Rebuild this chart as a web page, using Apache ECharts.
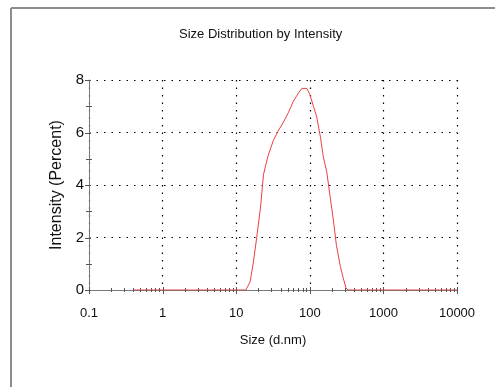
<!DOCTYPE html>
<html>
<head>
<meta charset="utf-8">
<script src="https://cdn.jsdelivr.net/npm/echarts@6/dist/echarts.min.js"></script>
<style>
html,body{margin:0;padding:0;background:#fff;}
#chart{width:495px;height:387px;}
</style>
</head>
<body>
<div id="chart"></div>
<script>
// ---- data ----
var titleText = 'Size Distribution by Intensity';
var xName = 'Size (d.nm)';
var yName = 'Intensity (Percent)';
var sizes = [0.4, 13.5, 15.4, 17, 19, 21.5, 23.5, 27, 32, 37, 44, 51, 60, 70, 78, 91, 100, 112, 124, 140, 152, 170, 190, 209, 230, 260, 285, 310, 330, 10000];
var intensity = [0, 0, 0.3, 1.0, 2.0, 3.2, 4.4, 5.1, 5.7, 6.05, 6.4, 6.75, 7.2, 7.5, 7.68, 7.68, 7.45, 7.0, 6.6, 5.8, 5.1, 4.5, 3.5, 2.67, 1.7, 0.9, 0.45, 0.08, 0, 0];
var xTickLabels = ['0.1', '1', '10', '100', '1000', '10000'];
var xMajorTicks = [0.1, 1, 10, 100, 1000, 10000];
var xMinorTicks = [0.2,0.3,0.4,0.5,0.6,0.7,0.8,0.9, 2,3,4,5,6,7,8,9, 20,30,40,50,60,70,80,90, 200,300,400,500,600,700,800,900, 2000,3000,4000,5000,6000,7000,8000,9000];
var yMajorTicks = [0, 2, 4, 6, 8];
var yMinorTicks = [1, 3, 5, 7];

var lineData = sizes.map(function (s, i) { return [s, intensity[i]]; });
var xTickData = xMajorTicks.map(function (v) { return [v, 1]; }).concat(xMinorTicks.map(function (v) { return [v, 0]; }));
var yTickData = yMajorTicks.map(function (v) { return [v, 1]; }).concat(yMinorTicks.map(function (v) { return [v, 0]; }));

var FONT = '"Liberation Sans", Arial, sans-serif';
var chart = echarts.init(document.getElementById('chart'), null, {renderer: 'canvas'});

var option = {
  backgroundColor: '#fff',
  animation: false,
  title: {
    text: titleText,
    left: 179, top: 28, padding: 0,
    textStyle: {fontFamily: FONT, fontSize: 13, fontWeight: 'normal', color: '#111'}
  },
  graphic: [
    {type: 'line', shape: {x1: 11, y1: 8, x2: 495, y2: 8}, style: {stroke: '#8c8c8c', lineWidth: 2}},
    {type: 'line', shape: {x1: 11, y1: 8, x2: 11, y2: 387}, style: {stroke: '#8c8c8c', lineWidth: 2}}
  ],
  grid: {left: 89, right: 38, top: 80, bottom: 97, containLabel: false},
  xAxis: {
    type: 'log', logBase: 10, min: 0.1, max: 10000,
    name: xName, nameLocation: 'middle', nameGap: 44,
    nameTextStyle: {fontFamily: FONT, fontSize: 13, color: '#111'},
    axisLine: {lineStyle: {color: '#7a7a7a', width: 1}},
    axisTick: {show: false},
    minorTick: {show: false},
    axisLabel: {
      fontFamily: FONT, fontSize: 13, color: '#111', margin: 17,
      formatter: function (v) {
        var i = xMajorTicks.findIndex(function (m) { return Math.abs(Math.log10(m) - Math.log10(v)) < 1e-6; });
        return i >= 0 ? xTickLabels[i] : '';
      }
    },
    splitLine: {show: true, lineStyle: {color: '#000', width: 1.2, type: [1.5, 6]}}
  },
  yAxis: {
    type: 'value', min: 0, max: 8, interval: 2,
    name: yName, nameLocation: 'middle', nameGap: 22, nameRotate: 90,
    nameTextStyle: {fontFamily: FONT, fontSize: 16, color: '#111'},
    axisLine: {show: true, lineStyle: {color: '#7a7a7a', width: 1}},
    axisTick: {show: false},
    axisLabel: {fontFamily: FONT, fontSize: 15, color: '#111', margin: 5},
    splitLine: {show: true, lineStyle: {color: '#000', width: 1.2, type: [1.5, 6]}}
  },
  series: [
    {
      type: 'line', data: lineData, showSymbol: false, smooth: false,
      lineStyle: {color: '#e8403f', width: 1}, z: 5
    },
    {
      type: 'custom', data: xTickData, clip: false, silent: true, z: 3,
      renderItem: function (params, api) {
        var p = api.coord([api.value(0), 0]);
        var major = api.value(1) === 1;
        var x = Math.round(p[0]) + 0.5;
        return {type: 'line', shape: {x1: x, y1: p[1] - (major ? 3 : 2), x2: x, y2: p[1] + (major ? 4 : 2)},
                style: {stroke: '#555', lineWidth: 1}};
      }
    },
    {
      type: 'custom', data: yTickData.map(function (d) { return [0.1, d[0], d[1]]; }), clip: false, silent: true, z: 3,
      renderItem: function (params, api) {
        var p = api.coord([api.value(0), api.value(1)]);
        var major = api.value(2) === 1;
        var y = Math.round(p[1]) + 0.5;
        return {type: 'line', shape: {x1: p[0] - (major ? 4 : 3), y1: y, x2: p[0] + (major ? 2 : 3), y2: y},
                style: {stroke: '#555', lineWidth: 1}};
      }
    }
  ]
};
chart.setOption(option);
</script>
</body>
</html>
